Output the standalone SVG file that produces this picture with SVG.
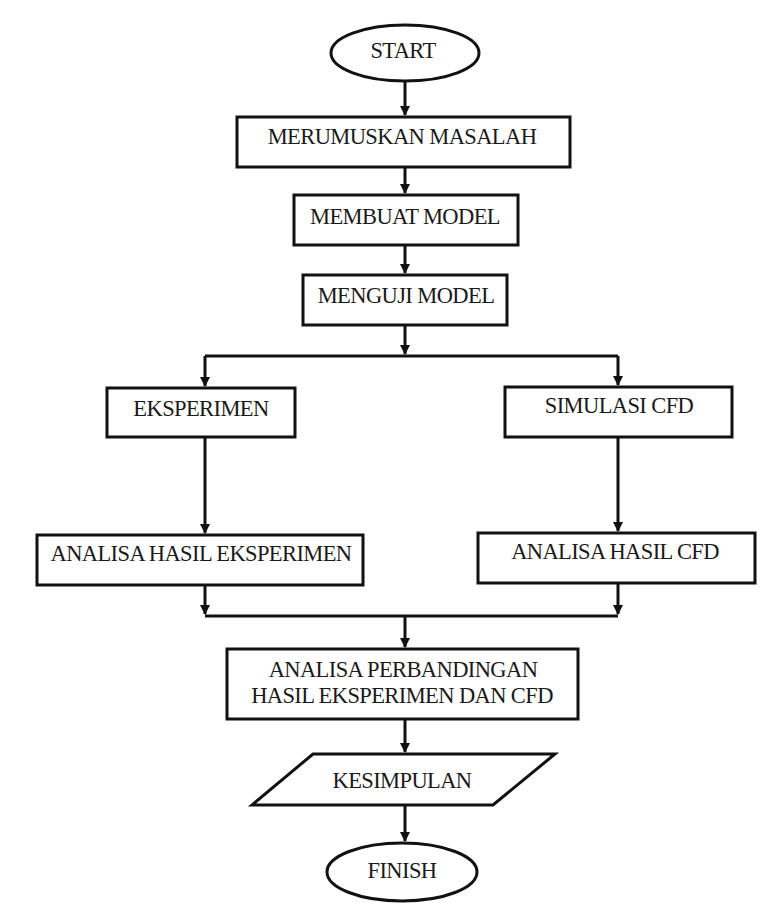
<svg xmlns="http://www.w3.org/2000/svg" width="761" height="911" viewBox="0 0 761 911">
<style>
.s{fill:#fff;stroke:#111;stroke-width:3}
.t{font-family:'Liberation Serif','DejaVu Serif',serif;font-size:22.5px;fill:#1a1a1a;text-anchor:middle;letter-spacing:-0.6px}
.c{fill:none;stroke:#111;stroke-width:3}
</style>
<defs>
<marker id="ah" markerWidth="10" markerHeight="12" refX="9" refY="5" orient="auto" markerUnits="userSpaceOnUse" viewBox="0 0 10 10">
<path d="M0,0 L10,5 L0,10 Z" fill="#111"/>
</marker>
</defs>
<rect width="761" height="911" fill="#fff"/>
<g id="connectors">
<path class="c" d="M405,82 V115" marker-end="url(#ah)"/>
<path class="c" d="M405,167 V193" marker-end="url(#ah)"/>
<path class="c" d="M405,245 V273" marker-end="url(#ah)"/>
<path class="c" d="M405,325 V354" marker-end="url(#ah)"/>
<path class="c" d="M205,356 H618"/>
<path class="c" d="M205,356 V386" marker-end="url(#ah)"/>
<path class="c" d="M618,356 V385" marker-end="url(#ah)"/>
<path class="c" d="M205,437 V533" marker-end="url(#ah)"/>
<path class="c" d="M618,437 V531" marker-end="url(#ah)"/>
<path class="c" d="M205,585 V614" marker-end="url(#ah)"/>
<path class="c" d="M618,583 V614" marker-end="url(#ah)"/>
<path class="c" d="M205,616 H618"/>
<path class="c" d="M405,616 V647" marker-end="url(#ah)"/>
<path class="c" d="M405,719 V752" marker-end="url(#ah)"/>
<path class="c" d="M405,805 V841" marker-end="url(#ah)"/>
</g>
<g id="start">
<ellipse class="s" cx="405" cy="53" rx="74" ry="28"/>
<text class="t" x="403" y="58">START</text>
</g>
<g id="merumuskan">
<rect class="s" x="237" y="117" width="333" height="50"/>
<text class="t" x="402" y="144">MERUMUSKAN MASALAH</text>
</g>
<g id="membuat">
<rect class="s" x="294" y="195" width="224" height="50"/>
<text class="t" x="405" y="224">MEMBUAT MODEL</text>
</g>
<g id="menguji">
<rect class="s" x="303" y="275" width="204" height="50"/>
<text class="t" x="406" y="303">MENGUJI MODEL</text>
</g>
<g id="eksperimen">
<rect class="s" x="107" y="388" width="188" height="49"/>
<text class="t" x="201" y="416">EKSPERIMEN</text>
</g>
<g id="simulasi">
<rect class="s" x="505" y="387" width="227" height="50"/>
<text class="t" x="619" y="413">SIMULASI CFD</text>
</g>
<g id="analisa-eksperimen">
<rect class="s" x="37" y="535" width="326" height="50"/>
<text class="t" x="201" y="561">ANALISA HASIL EKSPERIMEN</text>
</g>
<g id="analisa-cfd">
<rect class="s" x="478" y="533" width="277" height="50"/>
<text class="t" x="615" y="559">ANALISA HASIL CFD</text>
</g>
<g id="perbandingan">
<rect class="s" x="227" y="649" width="351" height="70"/>
<text class="t" x="403" y="677">ANALISA PERBANDINGAN</text>
<text class="t" x="402" y="703">HASIL EKSPERIMEN DAN CFD</text>
</g>
<g id="kesimpulan">
<polygon class="s" points="313,754 555,754 493,805 252,805"/>
<text class="t" x="402" y="788">KESIMPULAN</text>
</g>
<g id="finish">
<ellipse class="s" cx="402" cy="872" rx="75" ry="29"/>
<text class="t" x="402" y="878">FINISH</text>
</g>
</svg>
